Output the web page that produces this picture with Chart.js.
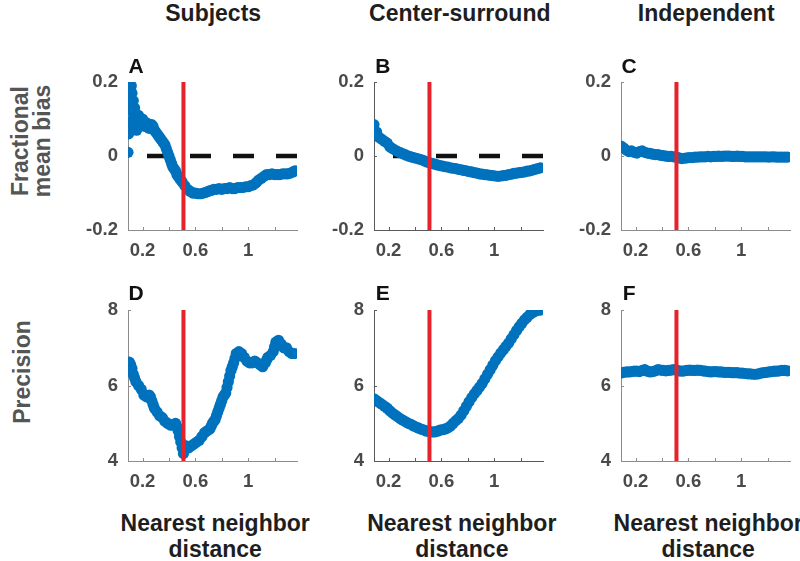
<!DOCTYPE html>
<html><head><meta charset="utf-8">
<script src="https://cdn.jsdelivr.net/npm/chart.js@4.4.0/dist/chart.umd.min.js"></script>
<style>
html,body{margin:0;padding:0;background:#fff;}
#wrap{position:relative;width:800px;height:561px;overflow:hidden;font-family:"Liberation Sans",Arial,sans-serif;}
canvas{position:absolute;}
.t{position:absolute;font-weight:bold;white-space:nowrap;text-align:center;transform:translate(-50%,-50%);line-height:1;}
</style></head><body><div id="wrap"></div>
<script>
// ---------------- data ----------------
const columnTitles = ['Subjects', 'Center-surround', 'Independent'];
const panelLetters = ['A', 'B', 'C', 'D', 'E', 'F'];
const rowTitles = [['Fractional', 'mean bias'], ['Precision']];
const xAxisTitle = ['Nearest neighbor', 'distance'];

const xTickValues = [0.2, 0.4, 0.6, 0.8, 1.0, 1.2];
const xTickLabels = ['0.2', '', '0.6', '', '1', ''];
const biasTickValues = [-0.2, 0, 0.2];
const biasTickLabels = ['-0.2', '0', '0.2'];
const precTickValues = [4, 6, 8];
const precTickLabels = ['4', '6', '8'];

const criticalDistance = 0.51;

const nnDistance = [0.09,0.11,0.13,0.15,0.17,0.19,0.21,0.23,0.25,0.27,
  0.29,0.31,0.33,0.35,0.37,0.39,0.41,0.43,0.45,0.47,
  0.49,0.51,0.53,0.55,0.57,0.59,0.61,0.63,0.65,0.67,
  0.69,0.71,0.73,0.75,0.77,0.79,0.81,0.83,0.85,0.87,
  0.89,0.91,0.93,0.95,0.97,0.99,1.01,1.03,1.05,1.07,
  1.09,1.11,1.13,1.15,1.17,1.19,1.21,1.23,1.25,1.27,
  1.29,1.31,1.33,1.35];

// A: subjects, fractional mean bias (own x positions, noisy start)
const subjBiasX = [0.09,0.095,0.10,0.10,0.105,0.11,0.115,0.12,0.12,0.125,
  0.13,0.13,0.135,0.14,0.145,0.15,0.155,0.16,0.17,0.18,
  0.19,0.20,0.21,0.22,0.23,0.24,0.25,0.26,0.27,0.28,
  0.29,0.30,0.31,0.32,0.33,0.34,0.35,0.36,0.37,0.38,
  0.39,0.40,0.41,0.42,0.43,0.44,0.45,0.46,0.47,0.48,
  0.49,0.50,0.52,0.54,0.56,0.58,0.60,0.62,0.64,0.66,
  0.68,0.70,0.72,0.74,0.76,0.78,0.80,0.82,0.84,0.86,
  0.88,0.90,0.92,0.94,0.96,0.98,1.00,1.02,1.04,1.06,
  1.08,1.10,1.12,1.14,1.16,1.18,1.20,1.22,1.24,1.26,
  1.28,1.30,1.32,1.34,1.355];
const subjBiasY = [0.01,0.06,0.09,0.13,0.16,0.18,0.19,0.17,0.14,0.12,
  0.15,0.10,0.08,0.13,0.11,0.09,0.07,0.10,0.11,0.10,
  0.09,0.10,0.09,0.08,0.09,0.085,0.075,0.08,0.085,0.08,
  0.07,0.065,0.06,0.055,0.05,0.045,0.04,0.035,0.03,0.02,
  0.01,0.0,-0.01,-0.02,-0.03,-0.035,-0.04,-0.05,-0.055,-0.06,
  -0.065,-0.07,-0.08,-0.09,-0.095,-0.1,-0.1,-0.102,-0.102,-0.1,
  -0.098,-0.095,-0.093,-0.09,-0.09,-0.088,-0.09,-0.088,-0.088,-0.085,
  -0.088,-0.088,-0.085,-0.085,-0.085,-0.083,-0.083,-0.08,-0.078,-0.072,
  -0.065,-0.06,-0.055,-0.05,-0.05,-0.048,-0.05,-0.05,-0.05,-0.048,
  -0.048,-0.048,-0.046,-0.043,-0.04];

// B: center-surround model, fractional mean bias
const centerBias = [0.085,0.065,0.05,0.045,0.04,0.035,0.025,0.02,0.016,0.012,
  0.009,0.006,0.003,0.0,-0.002,-0.004,-0.006,-0.008,-0.01,-0.013,
  -0.016,-0.018,-0.02,-0.022,-0.024,-0.026,-0.027,-0.029,-0.03,-0.032,
  -0.033,-0.034,-0.036,-0.037,-0.039,-0.04,-0.042,-0.043,-0.045,-0.046,
  -0.048,-0.049,-0.05,-0.051,-0.052,-0.053,-0.054,-0.055,-0.054,-0.053,
  -0.052,-0.05,-0.049,-0.047,-0.046,-0.045,-0.044,-0.043,-0.041,-0.04,
  -0.038,-0.036,-0.034,-0.032];

// C: independent model, fractional mean bias
const indepBias = [0.027,0.022,0.016,0.012,0.014,0.01,0.008,0.012,0.014,0.01,
  0.008,0.007,0.005,0.004,0.004,0.002,0.001,0.0,-0.001,-0.001,
  -0.002,-0.003,-0.005,-0.007,-0.006,-0.005,-0.004,-0.004,-0.003,-0.003,
  -0.002,-0.002,-0.002,-0.001,-0.002,-0.001,-0.001,0.0,-0.001,0.0,
  0.0,0.0,-0.001,-0.001,0.0,-0.001,-0.001,-0.002,-0.002,-0.002,
  -0.002,-0.002,-0.002,-0.002,-0.002,-0.002,-0.003,-0.002,-0.002,-0.003,
  -0.003,-0.003,-0.003,-0.003];

// D: subjects, precision (own x positions, denser where the curve is steep)
const subjPrecisionX = [0.09,0.10,0.11,0.12,0.13,0.14,0.15,0.17,0.19,0.21,
  0.23,0.25,0.26,0.27,0.28,0.29,0.31,0.33,0.35,0.37,
  0.39,0.41,0.43,0.45,0.46,0.47,0.48,0.49,0.50,0.51,
  0.52,0.53,0.55,0.57,0.59,0.61,0.63,0.65,0.67,0.69,
  0.71,0.72,0.73,0.74,0.75,0.76,0.77,0.78,0.79,0.80,
  0.81,0.82,0.83,0.84,0.85,0.86,0.87,0.88,0.89,0.90,
  0.91,0.93,0.95,0.97,0.99,1.01,1.03,1.05,1.07,1.09,
  1.11,1.13,1.14,1.15,1.17,1.19,1.20,1.21,1.23,1.25,
  1.27,1.29,1.31,1.33,1.35];
const subjPrecision = [6.6,6.62,6.55,6.45,6.3,6.2,6.1,6.0,5.9,5.75,
  5.7,5.75,5.7,5.6,5.5,5.4,5.3,5.2,5.15,5.05,
  5.0,4.95,4.95,5.0,4.9,4.8,4.65,4.5,4.35,4.2,
  4.3,4.4,4.35,4.4,4.45,4.5,4.55,4.65,4.75,4.8,
  4.85,4.92,5.0,5.05,5.1,5.2,5.3,5.4,5.5,5.6,
  5.7,5.75,5.8,5.95,6.1,6.25,6.4,6.5,6.6,6.72,
  6.85,6.9,6.85,6.75,6.65,6.6,6.6,6.65,6.6,6.55,
  6.5,6.6,6.68,6.75,6.8,6.9,7.02,7.15,7.2,7.1,
  7.0,7.0,6.9,6.85,6.85];

// E: center-surround model, precision
const centerPrecision = [5.65,5.6,5.55,5.5,5.45,5.4,5.33,5.27,5.22,5.17,
  5.12,5.08,5.04,5.0,4.97,4.93,4.9,4.87,4.84,4.82,
  4.79,4.78,4.77,4.77,4.79,4.82,4.83,4.85,4.88,4.93,
  5.0,5.07,5.13,5.22,5.33,5.45,5.57,5.68,5.78,5.87,
  5.96,6.06,6.18,6.3,6.42,6.54,6.66,6.76,6.86,6.95,
  7.04,7.13,7.24,7.35,7.46,7.56,7.65,7.74,7.81,7.88,
  7.93,7.97,8.0,8.0];

// F: independent model, precision
const indepPrecision = [6.33,6.35,6.36,6.36,6.37,6.38,6.38,6.37,6.4,6.42,
  6.38,6.36,6.37,6.39,6.42,6.41,6.4,6.39,6.4,6.41,
  6.42,6.41,6.39,6.38,6.39,6.4,6.41,6.4,6.4,6.41,
  6.4,6.39,6.38,6.37,6.36,6.37,6.37,6.36,6.36,6.35,
  6.35,6.35,6.34,6.34,6.34,6.33,6.33,6.32,6.31,6.31,
  6.3,6.3,6.31,6.33,6.34,6.35,6.36,6.37,6.38,6.38,
  6.39,6.4,6.4,6.39];

// ---------------- layout / drawing ----------------
const X_MIN = 0.09, X_MAX = 1.37;
const colLeft = [127.7, 374.3, 620.7];
const plotW = 169;
const rowTop = [81, 308.5];
const rowBottom = [230, 461];
const PAD_L = 60, PAD_T = 20, PAD_R = 12, PAD_B = 40;
const BLUE = '#0072BD';
const RED = '#E6222B';
const TICK_COLOR = '#4a4a4a';

const panels = [
  {col:0,row:0,xs:subjBiasX,ys:subjBiasY,zero:true,axis:'#8c8c8c'},
  {col:1,row:0,xs:nnDistance,ys:centerBias,zero:true,axis:'#5a5a5a'},
  {col:2,row:0,xs:nnDistance,ys:indepBias,zero:false,axis:'#8c8c8c'},
  {col:0,row:1,xs:subjPrecisionX,ys:subjPrecision,zero:false,axis:'#8c8c8c'},
  {col:1,row:1,xs:nnDistance,ys:centerPrecision,zero:false,axis:'#5a5a5a'},
  {col:2,row:1,xs:nnDistance,ys:indepPrecision,zero:false,axis:'#8c8c8c'}
];

const wrap = document.getElementById('wrap');

const inTicks = {
  id: 'inTicks',
  beforeDatasetsDraw(chart, args, opts) {
    const {ctx, chartArea: a, scales: {x, y}} = chart;
    ctx.save();
    ctx.strokeStyle = opts.color;
    ctx.lineWidth = 1;
    x.ticks.forEach(t => {
      const px = Math.round(x.getPixelForValue(t.value)) + 0.5;
      ctx.beginPath(); ctx.moveTo(px, a.bottom); ctx.lineTo(px, a.bottom - 3); ctx.stroke();
    });
    y.ticks.forEach(t => {
      const py = Math.round(y.getPixelForValue(t.value)) + 0.5;
      ctx.beginPath(); ctx.moveTo(a.left, py); ctx.lineTo(a.left + 3, py); ctx.stroke();
    });
    ctx.restore();
  }
};

panels.forEach((p, i) => {
  const isBias = p.row === 0;
  const yMin = isBias ? -0.2 : 4, yMax = isBias ? 0.2 : 8;
  const yTicks = isBias ? biasTickValues : precTickValues;
  const yLabels = isBias ? biasTickLabels : precTickLabels;
  const h = rowBottom[p.row] - rowTop[p.row];
  const cw = plotW + PAD_L + PAD_R, chH = h + PAD_T + PAD_B;
  const cv = document.createElement('canvas');
  cv.width = cw; cv.height = chH;
  cv.style.left = (colLeft[p.col] - PAD_L) + 'px';
  cv.style.top = (rowTop[p.row] - PAD_T) + 'px';
  cv.style.width = cw + 'px'; cv.style.height = chH + 'px';
  wrap.appendChild(cv);

  const datasets = [
    {data: [{x: criticalDistance, y: yMin}, {x: criticalDistance, y: yMax}],
     showLine: true, borderColor: RED, borderWidth: 4, pointRadius: 0, borderCapStyle: 'butt'},
    {data: p.xs.map((x, k) => ({x, y: p.ys[k]})),
     showLine: false, pointRadius: 5.6, pointBackgroundColor: BLUE, pointBorderWidth: 0, backgroundColor: BLUE, borderColor: BLUE}
  ];
  if (p.zero) {
    datasets.push({data: [{x: X_MIN, y: 0}, {x: X_MAX, y: 0}], showLine: true,
      borderColor: '#111', borderWidth: 4.5, borderDash: [21, 22], borderDashOffset: 24,
      pointRadius: 0, borderCapStyle: 'butt'});
  }

  new Chart(cv, {
    type: 'scatter',
    data: {datasets},
    plugins: [inTicks],
    options: {
      responsive: false, animation: false, devicePixelRatio: 1, events: [],
      layout: {padding: {left: 0, top: PAD_T, right: PAD_R, bottom: 0}},
      plugins: {legend: {display: false}, tooltip: {enabled: false}, inTicks: {color: p.axis}},
      scales: {
        x: {type: 'linear', min: X_MIN, max: X_MAX,
          afterBuildTicks: s => { s.ticks = xTickValues.map(v => ({value: v})); },
          afterFit: s => { s.height = PAD_B; },
          grid: {display: false, drawTicks: false},
          border: {display: true, color: p.axis, width: 1},
          ticks: {padding: 10, color: TICK_COLOR, maxRotation: 0, autoSkip: false,
            font: {family: '"Liberation Sans", Arial, sans-serif', size: 18.5, weight: 'bold'},
            callback: (v, idx) => xTickLabels[idx]}},
        y: {type: 'linear', min: yMin, max: yMax,
          afterBuildTicks: s => { s.ticks = yTicks.map(v => ({value: v})); },
          afterFit: s => { s.width = PAD_L; },
          grid: {display: false, drawTicks: false},
          border: {display: true, color: p.axis, width: 1},
          ticks: {padding: 10, color: TICK_COLOR, autoSkip: false,
            font: {family: '"Liberation Sans", Arial, sans-serif', size: 18.5, weight: 'bold'},
            callback: (v, idx) => yLabels[idx]}}
      }
    }
  });
});

function addText(txt, cx, cy, size, color, extra) {
  const d = document.createElement('div');
  d.className = 't';
  d.textContent = txt;
  d.style.left = cx + 'px'; d.style.top = cy + 'px';
  d.style.fontSize = size + 'px'; d.style.color = color;
  if (extra) d.style.transform = extra;
  wrap.appendChild(d);
  return d;
}

const colCenter = colLeft.map(l => l + plotW / 2);
columnTitles.forEach((t, c) => addText(t, colCenter[c] + 1, 13, 23, '#1e1e1e'));
panelLetters.forEach((t, i) => {
  const c = i % 3, r = Math.floor(i / 3);
  addText(t, colLeft[c] + 8.5, r === 0 ? 65 : 292, 21, '#111');
});
// row titles (rotated)
addText(rowTitles[0][0], 20, 141, 23, '#555', 'translate(-50%,-50%) rotate(-90deg)');
addText(rowTitles[0][1], 42, 141, 23, '#555', 'translate(-50%,-50%) rotate(-90deg)');
addText(rowTitles[1][0], 22, 372, 23, '#555', 'translate(-50%,-50%) rotate(-90deg)');
// x axis titles
colCenter.forEach(cx => {
  addText(xAxisTitle[0], cx + 3, 523, 23, '#1e1e1e');
  addText(xAxisTitle[1], cx + 3, 549, 23, '#1e1e1e');
});
</script>
</body></html>
